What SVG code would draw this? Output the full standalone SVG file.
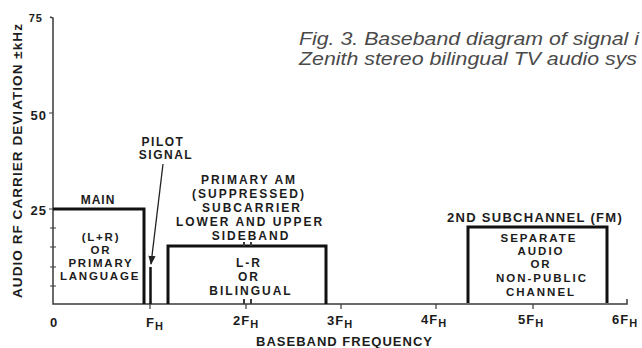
<svg xmlns="http://www.w3.org/2000/svg" width="642" height="348" viewBox="0 0 642 348">
<defs>
<style>
.lbl{font-family:"Liberation Sans",Arial,sans-serif;font-weight:bold;fill:#1c1c1c;letter-spacing:1px;text-anchor:middle}
.num{font-family:"Liberation Sans",Arial,sans-serif;font-weight:bold;fill:#1c1c1c;font-size:13px;letter-spacing:1px}
.cap{font-family:"Liberation Sans",Arial,sans-serif;font-style:italic;fill:#4a4a4a;font-size:19px}
.axis{stroke:#3a3a3a;stroke-width:1.5;fill:none}
.tick{stroke:#3a3a3a;stroke-width:1.2;fill:none}
.band{stroke:#111;stroke-width:3;fill:none;stroke-linejoin:miter}
.conn{stroke:#222;stroke-width:1.3;fill:none}
.m{font-size:11.5px;letter-spacing:1.8px}
.a{font-size:12px;letter-spacing:2px}
.s{font-size:11.5px;letter-spacing:2px}
</style>
<marker id="arr" viewBox="0 0 10 10" refX="9" refY="5" markerWidth="7" markerHeight="7" orient="auto">
<path d="M0,1 L10,5 L0,9 z" fill="#222"/>
</marker>
</defs>
<rect width="642" height="348" fill="#ffffff"/>

<g id="caption">
<text class="cap" x="299" y="45" textLength="340" lengthAdjust="spacingAndGlyphs">Fig. 3. Baseband diagram of signal i</text>
<text class="cap" x="299" y="65" textLength="338" lengthAdjust="spacingAndGlyphs">Zenith stereo bilingual TV audio sys</text>
</g>

<g id="axes">
<path class="axis" d="M50,17 L53,18 L53,304 L627,304 L627,299"/>
<path class="tick" d="M49,113 L53,113 M49,209 L56,209 M50,228 L56,228 M50,247 L56,247 M50,267 L56,267 M50,286 L56,286"/>
<path class="tick" d="M150,304 L150,309 M246,304 L246,309 M341,304 L341,309 M436,304 L436,309 M533,304 L533,309"/>
<text class="num" x="43" y="22" text-anchor="end" style="font-size:11px">75</text>
<text class="num" x="47" y="120" text-anchor="end">50</text>
<text class="num" x="47" y="215" text-anchor="end">25</text>
<text class="num" x="50" y="327">0</text>
<text class="num" x="146" y="327">F<tspan dy="3" style="font-size:11px">H</tspan></text>
<text class="num" x="233" y="325">2F<tspan dy="3" style="font-size:11px">H</tspan></text>
<text class="num" x="327" y="325">3F<tspan dy="3" style="font-size:11px">H</tspan></text>
<text class="num" x="421" y="324">4F<tspan dy="3" style="font-size:11px">H</tspan></text>
<text class="num" x="518" y="324">5F<tspan dy="3" style="font-size:11px">H</tspan></text>
<text class="num" x="612" y="324">6F<tspan dy="3" style="font-size:11px">H</tspan></text>
<text class="lbl" x="344.5" y="346" style="font-size:13px">BASEBAND FREQUENCY</text>
<text class="lbl" transform="translate(22,160.5) rotate(-90)" style="font-size:13px" textLength="275" lengthAdjust="spacingAndGlyphs">AUDIO RF CARRIER DEVIATION ±kHz</text>
</g>

<g id="main-band">
<path class="band" d="M53,209 L144,209 L144,304"/>
<text class="lbl" x="98" y="204" style="font-size:12px">MAIN</text>
<text class="lbl m" x="101" y="241">(L+R)</text>
<text class="lbl m" x="101" y="254">OR</text>
<text class="lbl m" x="101" y="267">PRIMARY</text>
<text class="lbl m" x="100" y="280">LANGUAGE</text>
</g>

<g id="pilot">
<path class="band" d="M150.5,267 L150.5,304" style="stroke-width:2.5"/>
<text class="lbl" x="163" y="146" style="font-size:12px;letter-spacing:1.5px">PILOT</text>
<text class="lbl" x="166" y="159" style="font-size:12px;letter-spacing:1.5px">SIGNAL</text>
</g>

<g id="am-band">
<path class="band" d="M168,304 L168,246 L326,246 L326,304"/>
<path class="tick" d="M244,246 L244,242 M251,246 L251,242 M244,304 L244,299 M251,304 L251,299" style="stroke-width:2"/>
<text class="lbl a" x="249" y="184">PRIMARY AM</text>
<text class="lbl a" x="249" y="198">(SUPPRESSED)</text>
<text class="lbl a" x="252" y="212">SUBCARRIER</text>
<text class="lbl a" x="250" y="226">LOWER AND UPPER</text>
<text class="lbl a" x="251" y="240">SIDEBAND</text>
<text class="lbl a" x="249" y="267">L-R</text>
<text class="lbl a" x="249" y="281">OR</text>
<text class="lbl a" x="251" y="295">BILINGUAL</text>
</g>

<g id="subchannel-band">
<path class="band" d="M468,303 L468,227 L607,227 L607,303"/>
<text class="lbl" x="535" y="222" style="font-size:13px;letter-spacing:1.3px">2ND SUBCHANNEL (FM)</text>
<text class="lbl s" x="539" y="242">SEPARATE</text>
<text class="lbl s" x="541" y="255">AUDIO</text>
<text class="lbl s" x="541" y="268">OR</text>
<text class="lbl s" x="542" y="282">NON-PUBLIC</text>
<text class="lbl s" x="541" y="296">CHANNEL</text>
</g>

<g id="connectors">
<path class="conn" d="M163,164 L151,264" marker-end="url(#arr)"/>
</g>
</svg>
